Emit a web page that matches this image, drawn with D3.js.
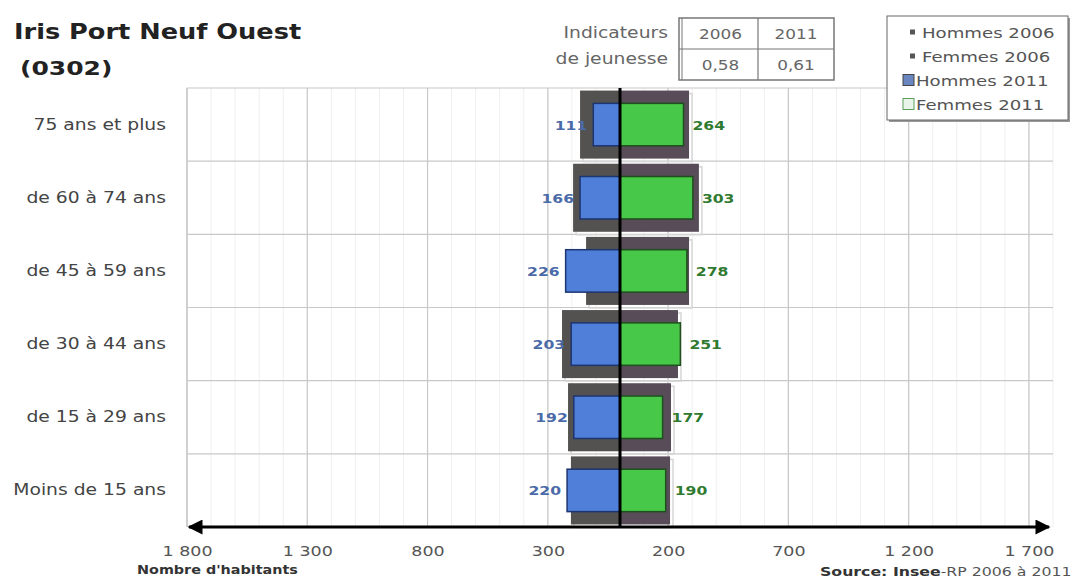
<!DOCTYPE html>
<html>
<head>
<meta charset="utf-8">
<script src="https://cdn.jsdelivr.net/npm/d3@7"></script>
<style>
  html, body { margin: 0; padding: 0; background: #fff; }
  svg { display: block; }
  text { font-family: "DejaVu Sans", Verdana, sans-serif; }
</style>
</head>
<body>
<svg id="chart" width="1073" height="579"></svg>
<script>
// Age groups, top to bottom
const categories = ["75 ans et plus", "de 60 à 74 ans", "de 45 à 59 ans", "de 30 à 44 ans", "de 15 à 29 ans", "Moins de 15 ans"];
// Population per age group
const hommes2006 = [166, 195, 141, 241, 216, 204];
const femmes2006 = [287, 328, 287, 241, 212, 208];
const hommes2011 = [111, 166, 226, 203, 192, 220];
const femmes2011 = [264, 303, 278, 251, 177, 190];
// Axis ticks (men on the negative side)
const tickValues = [-1800, -1300, -800, -300, 200, 700, 1200, 1700];
// Youth indicator table
const indicYears = ["2006", "2011"];
const indicValues = ["0,58", "0,61"];
const legendLabels = ["Hommes 2006", "Femmes 2006", "Hommes 2011", "Femmes 2011"];

const svg = d3.select("#chart");
const plotLeft = 187, plotRight = 1053, plotTop = 88, plotBottom = 527;
const SX = 1.25; // horizontal stretch of the lettering

// Move a text's x/y into a transform and widen its glyphs
function stretch(sel) {
  sel.each(function () {
    const t = d3.select(this);
    const tx = +t.attr("x") || 0, ty = +t.attr("y") || 0;
    t.attr("x", null).attr("y", null)
      .attr("transform", `translate(${tx},${ty}) scale(${SX},1)`);
  });
}

const x = d3.scaleLinear().domain([-1800, 1800]).range([plotLeft, plotRight]);
const y = d3.scaleBand().domain(categories).range([plotTop, plotBottom]).padding(0);
const bw = y.bandwidth();

const fr = d3.formatLocale({ decimal: ",", thousands: "\u00a0", grouping: [3], currency: ["", " €"] });
const fmt = fr.format(",");

// Minor vertical grid every 100
const grid = svg.append("g");
grid.selectAll("line.minor").data(d3.range(-1800, 1801, 100))
  .join("line").attr("class", "minor")
  .attr("x1", d => x(d)).attr("x2", d => x(d))
  .attr("y1", plotTop).attr("y2", plotBottom)
  .attr("stroke", "#efefef").attr("stroke-width", 1);
// Major vertical grid
grid.selectAll("line.major").data(tickValues)
  .join("line").attr("class", "major")
  .attr("x1", d => x(d)).attr("x2", d => x(d))
  .attr("y1", plotTop).attr("y2", plotBottom)
  .attr("stroke", "#c8c8c8").attr("stroke-width", 1.2);
// Horizontal grid on band boundaries
grid.selectAll("line.h").data(categories)
  .join("line").attr("class", "h")
  .attr("x1", plotLeft).attr("x2", plotRight)
  .attr("y1", d => y(d)).attr("y2", d => y(d))
  .attr("stroke", "#c8c8c8").attr("stroke-width", 1.2);
grid.append("line").attr("x1", plotLeft).attr("x2", plotLeft).attr("y1", plotTop).attr("y2", plotBottom)
  .attr("stroke", "#c8c8c8").attr("stroke-width", 1.2);

// 2006 bars (dark, wide) with a light shadow frame
const gh = bw * 0.93;
const bars06 = svg.append("g");
categories.forEach((c, i) => {
  const yc = y(c) + (bw - gh) / 2;
  bars06.append("rect")
    .attr("x", x(-hommes2006[i]) + 3).attr("y", yc + 3)
    .attr("width", x(femmes2006[i]) - x(-hommes2006[i])).attr("height", gh)
    .attr("fill", "none").attr("stroke", "#d6d6d6").attr("stroke-width", 1.5);
  bars06.append("rect")
    .attr("x", x(-hommes2006[i])).attr("y", yc)
    .attr("width", x(0) - x(-hommes2006[i])).attr("height", gh)
    .attr("fill", "#545250");
  bars06.append("rect")
    .attr("x", x(0)).attr("y", yc)
    .attr("width", x(femmes2006[i]) - x(0)).attr("height", gh)
    .attr("fill", "#574c57");
});

// 2011 bars
const bh = bw * 0.58;
const bars11 = svg.append("g");
bars11.selectAll("rect.h11").data(categories).join("rect").attr("class", "h11")
  .attr("x", (c, i) => x(-hommes2011[i])).attr("y", c => y(c) + (bw - bh) / 2)
  .attr("width", (c, i) => x(0) - x(-hommes2011[i])).attr("height", bh)
  .attr("fill", "#4f7fd8").attr("stroke", "#1d3570").attr("stroke-width", 1.5);
bars11.selectAll("rect.f11").data(categories).join("rect").attr("class", "f11")
  .attr("x", x(0)).attr("y", c => y(c) + (bw - bh) / 2)
  .attr("width", (c, i) => x(femmes2011[i]) - x(0)).attr("height", bh)
  .attr("fill", "#48c848").attr("stroke", "#1f4f1f").attr("stroke-width", 1.5);

// Value labels
svg.append("g").selectAll("text").data(categories).join("text")
  .attr("x", (c, i) => x(-hommes2011[i]) - 6).attr("y", c => y(c) + bw / 2 + 5)
  .attr("text-anchor", "end").attr("font-size", 12.5).attr("font-weight", "bold")
  .attr("fill", "#4a6aa8").text((c, i) => hommes2011[i]).call(stretch);
svg.append("g").selectAll("text").data(categories).join("text")
  .attr("x", (c, i) => x(femmes2011[i]) + 9).attr("y", c => y(c) + bw / 2 + 5)
  .attr("text-anchor", "start").attr("font-size", 12.5).attr("font-weight", "bold")
  .attr("fill", "#2f7a2f").text((c, i) => femmes2011[i]).call(stretch);

// Centre line
svg.append("line").attr("x1", x(0)).attr("x2", x(0)).attr("y1", plotTop).attr("y2", plotBottom)
  .attr("stroke", "#000").attr("stroke-width", 3);

// Category labels
svg.append("g").selectAll("text").data(categories).join("text")
  .attr("x", 166).attr("y", c => y(c) + bw / 2 + 5)
  .attr("text-anchor", "end").attr("font-size", 15).attr("fill", "#444")
  .text(c => c).call(stretch);

// Double-headed horizontal axis
const defs = svg.append("defs");
defs.append("marker").attr("id", "arrR").attr("viewBox", "0 0 10 10")
  .attr("refX", 9).attr("refY", 5).attr("markerWidth", 6).attr("markerHeight", 5)
  .attr("markerUnits", "strokeWidth").attr("orient", "auto")
  .append("path").attr("d", "M0,0 L10,5 L0,10 Z").attr("fill", "#000");
defs.append("marker").attr("id", "arrL").attr("viewBox", "0 0 10 10")
  .attr("refX", 1).attr("refY", 5).attr("markerWidth", 6).attr("markerHeight", 5)
  .attr("markerUnits", "strokeWidth").attr("orient", "auto")
  .append("path").attr("d", "M10,0 L0,5 L10,10 Z").attr("fill", "#000");
svg.append("line").attr("x1", plotLeft + 2).attr("x2", plotRight - 4).attr("y1", plotBottom).attr("y2", plotBottom)
  .attr("stroke", "#000").attr("stroke-width", 3)
  .attr("marker-start", "url(#arrL)").attr("marker-end", "url(#arrR)");

const axis = d3.axisBottom(x).tickValues(tickValues).tickSize(0)
  .tickFormat(d => fmt(Math.abs(d)));
const ax = svg.append("g").attr("transform", `translate(0,${plotBottom + 16})`).call(axis);
ax.select(".domain").remove();
ax.selectAll("text").attr("font-size", 14).attr("fill", "#555")
  .attr("font-family", "DejaVu Sans, sans-serif").call(stretch);

svg.append("text").attr("x", 137).attr("y", 574).attr("font-size", 11.5)
  .attr("font-weight", "bold").attr("fill", "#333").text("Nombre d'habitants").call(stretch);
const src = svg.append("text").attr("x", 820).attr("y", 576).attr("font-size", 12.6)
  .attr("fill", "#555");
src.append("tspan").attr("font-weight", "bold").attr("fill", "#333").text("Source: Insee");
src.append("tspan").text("-RP 2006 à 2011");
src.call(stretch);

// Title
svg.append("text").attr("x", 14).attr("y", 39).attr("font-size", 20.5)
  .attr("font-weight", "bold").attr("fill", "#222").text("Iris Port Neuf Ouest").call(stretch);
svg.append("text").attr("x", 20).attr("y", 75).attr("font-size", 20)
  .attr("font-weight", "bold").attr("fill", "#222").text("(0302)").call(stretch);

// Youth indicator table
const tb = svg.append("g");
tb.append("text").attr("x", 668).attr("y", 38).attr("text-anchor", "end")
  .attr("font-size", 15).attr("fill", "#666").text("Indicateurs").call(stretch);
tb.append("text").attr("x", 668).attr("y", 64).attr("text-anchor", "end")
  .attr("font-size", 15).attr("fill", "#666").text("de jeunesse").call(stretch);
const tx0 = 679, tx1 = 758, tx2 = 834, ty0 = 18, ty1 = 49, ty2 = 80;
tb.append("rect").attr("x", tx0).attr("y", ty0).attr("width", tx2 - tx0).attr("height", ty2 - ty0)
  .attr("fill", "#fff").attr("stroke", "#777").attr("stroke-width", 1.5);
tb.append("line").attr("x1", tx0 + 3).attr("x2", tx0 + 3).attr("y1", ty0).attr("y2", ty2)
  .attr("stroke", "#777").attr("stroke-width", 1);
tb.append("line").attr("x1", tx1).attr("x2", tx1).attr("y1", ty0).attr("y2", ty2)
  .attr("stroke", "#777").attr("stroke-width", 1.2);
tb.append("line").attr("x1", tx0).attr("x2", tx2).attr("y1", ty1).attr("y2", ty1)
  .attr("stroke", "#777").attr("stroke-width", 1.2);
indicYears.forEach((t, i) => {
  const cx = i === 0 ? (tx0 + tx1) / 2 + 2 : (tx1 + tx2) / 2;
  tb.append("text").attr("x", cx).attr("y", 39).attr("text-anchor", "middle")
    .attr("font-size", 13.5).attr("fill", "#666").text(t).call(stretch);
  tb.append("text").attr("x", cx).attr("y", 70).attr("text-anchor", "middle")
    .attr("font-size", 13.5).attr("fill", "#666").text(indicValues[i]).call(stretch);
});

// Legend
const lg = svg.append("g");
const lx0 = 887, ly0 = 16, lw = 181, lh = 104;
lg.append("rect").attr("x", lx0 + 2).attr("y", ly0 + 2).attr("width", lw).attr("height", lh)
  .attr("fill", "#999");
lg.append("rect").attr("x", lx0).attr("y", ly0).attr("width", lw).attr("height", lh)
  .attr("fill", "#fff").attr("stroke", "#666").attr("stroke-width", 1);
const legendStyles = [
  { size: 5, fill: "#555", stroke: "none" },
  { size: 5, fill: "#555", stroke: "none" },
  { size: 11, fill: "#6a86bf", stroke: "#444" },
  { size: 11, fill: "#e8f5e8", stroke: "#5aa05a" }
];
legendLabels.forEach((t, i) => {
  const yy = ly0 + 17 + i * 24;
  const s = legendStyles[i];
  const mx = s.size > 6 ? lx0 + 16 : lx0 + 23;
  lg.append("rect").attr("x", mx).attr("y", yy - s.size / 2 - 1)
    .attr("width", s.size).attr("height", s.size)
    .attr("fill", s.fill).attr("stroke", s.stroke).attr("stroke-width", 1);
  lg.append("text").attr("x", s.size > 6 ? lx0 + 29 : lx0 + 35).attr("y", yy + 5).attr("font-size", 14.5)
    .attr("fill", "#555").text(t).call(stretch);
});
</script>
</body>
</html>
